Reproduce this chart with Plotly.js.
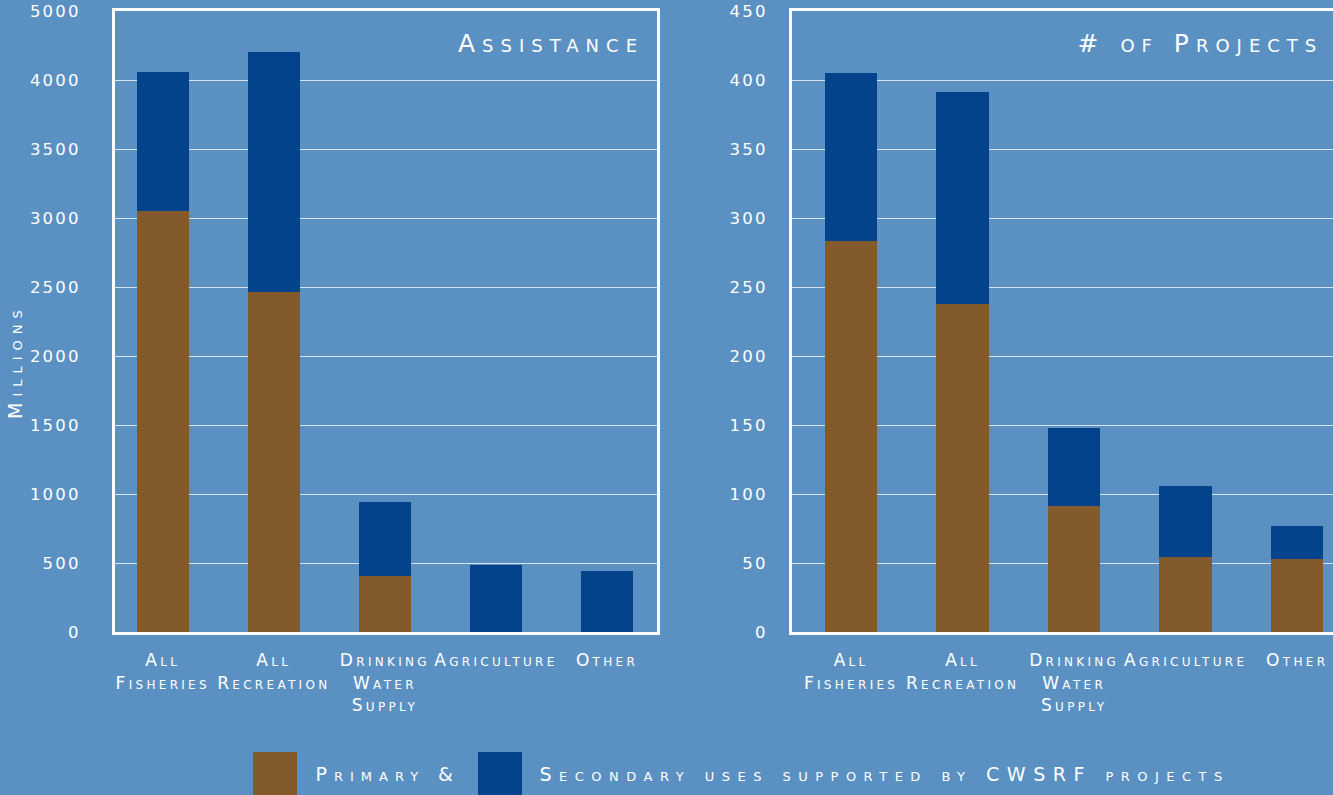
<!DOCTYPE html>
<html>
<head>
<meta charset="utf-8">
<script src="https://cdn.plot.ly/plotly-3.0.1.min.js"></script>
<style>
  html, body { margin: 0; padding: 0; background: #5b91c2; overflow: hidden; }
  #chart { width: 1335px; height: 795px; }
  .ytick text, .y2tick text { letter-spacing: 2.2px; }
  .xtick text, .x2tick text { letter-spacing: 3.3px; }
  g.annotation[data-index="0"] text, g.annotation[data-index="1"] text { letter-spacing: 7px; }
  g.annotation[data-index="2"] text { letter-spacing: 7px; }
  g.annotation[data-index="3"] text { letter-spacing: 7.5px; }
  g.annotation[data-index="4"] text { letter-spacing: 6px; }
</style>
</head>
<body>
<div id="chart"></div>
<script>
// ---- data ----
const categories = ["All<br>Fisheries", "All<br>Recreation", "Drinking<br>Water<br>Supply", "Agriculture", "Other"];
const assistancePrimary   = [3050, 2465, 405, 0, 0];
const assistanceSecondary = [1008, 1738, 537, 486, 442];
const projectsPrimary     = [283, 238, 91, 54, 53];
const projectsSecondary   = [122, 153, 57, 52, 24];
const assistanceTickVals  = [0, 500, 1000, 1500, 2000, 2500, 3000, 3500, 4000, 4500];
const assistanceTickText  = ["0", "500", "1000", "1500", "2000", "2500", "3000", "3500", "4000", "5000"];
const projectsTickVals    = [0, 50, 100, 150, 200, 250, 300, 350, 400, 450];
const seriesNames = ["Primary &", "Secondary uses supported by CWSRF projects"];
const panelTitles = ["Assistance", "# of Projects"];
const yTitle = "Millions";

const BG = "#5b91c2", BROWN = "#825a2c", NAVY = "#02438c";
const FONT = "DejaVu Sans";
const W = 1335, H = 795;
const px = v => v / W;
const py = v => 1 - v / H;

const traces = [
  {type: "bar", x: categories, y: assistancePrimary, name: seriesNames[0], marker: {color: BROWN}, xaxis: "x", yaxis: "y", showlegend: false, hoverinfo: "y"},
  {type: "bar", x: categories, y: assistanceSecondary, name: seriesNames[1], marker: {color: NAVY}, xaxis: "x", yaxis: "y", showlegend: false, hoverinfo: "y"},
  {type: "bar", x: categories, y: projectsPrimary, name: seriesNames[0], marker: {color: BROWN}, xaxis: "x2", yaxis: "y2", showlegend: false, hoverinfo: "y"},
  {type: "bar", x: categories, y: projectsSecondary, name: seriesNames[1], marker: {color: NAVY}, xaxis: "x2", yaxis: "y2", showlegend: false, hoverinfo: "y"}
];

const tickFont = {family: FONT, size: 16.5, color: "#ffffff"};
const catFont = {family: FONT, size: 17, color: "#ffffff", variant: "small-caps"};
const yDom = [py(632), py(11)];

const xCommon = {
  showgrid: false, zeroline: false, showline: true, linecolor: "#ffffff", linewidth: 3, mirror: true,
  tickfont: catFont, ticks: "outside", ticklen: 11, tickcolor: "rgba(0,0,0,0)", fixedrange: true
};
const yCommon = {
  showgrid: true, gridcolor: "rgba(255,255,255,0.75)", gridwidth: 1, zeroline: false,
  showline: true, linecolor: "#ffffff", linewidth: 3, mirror: true,
  tickfont: tickFont, ticks: "outside", tickcolor: "rgba(0,0,0,0)", fixedrange: true
};

const titleFont = {family: FONT, size: 25, color: "#ffffff", variant: "small-caps"};
const legendFont = {family: FONT, size: 19, color: "#ffffff", variant: "small-caps"};

const layout = {
  width: W, height: H,
  paper_bgcolor: BG, plot_bgcolor: BG,
  margin: {l: 0, r: 0, t: 0, b: 0},
  barmode: "stack", bargap: 0.53,
  font: {family: FONT, color: "#ffffff"},
  xaxis: Object.assign({}, xCommon, {domain: [px(115), px(657)], range: [-0.43, 4.45], anchor: "y"}),
  xaxis2: Object.assign({}, xCommon, {domain: [px(792), px(1334)], range: [-0.53, 4.33], anchor: "y2"}),
  yaxis: Object.assign({}, yCommon, {domain: yDom, range: [0, 4500], tickvals: assistanceTickVals, ticktext: assistanceTickText, ticklen: 28, anchor: "x"}),
  yaxis2: Object.assign({}, yCommon, {domain: yDom, range: [0, 450], tickvals: projectsTickVals, ticklen: 18, anchor: "x2"}),
  annotations: [
    {text: panelTitles[0], xref: "paper", yref: "paper", x: px(551), y: py(44), xanchor: "center", yanchor: "middle", showarrow: false, font: titleFont},
    {text: panelTitles[1], xref: "paper", yref: "paper", x: px(1200), y: py(44), xanchor: "center", yanchor: "middle", showarrow: false, font: titleFont},
    {text: seriesNames[0], xref: "paper", yref: "paper", x: px(387.5), y: py(774), xanchor: "center", yanchor: "middle", showarrow: false, font: legendFont},
    {text: seriesNames[1], xref: "paper", yref: "paper", x: px(884), y: py(774), xanchor: "center", yanchor: "middle", showarrow: false, font: legendFont},
    {text: yTitle, xref: "paper", yref: "paper", x: px(15), y: py(362), xanchor: "center", yanchor: "middle", textangle: -90, showarrow: false, font: legendFont}
  ],
  shapes: [
    {type: "rect", xref: "paper", yref: "paper", x0: px(253), x1: px(297), y0: py(795), y1: py(752), fillcolor: BROWN, line: {width: 0}},
    {type: "rect", xref: "paper", yref: "paper", x0: px(478), x1: px(522), y0: py(795), y1: py(752), fillcolor: NAVY, line: {width: 0}}
  ]
};

Plotly.newPlot("chart", traces, layout, {displayModeBar: false, staticPlot: true});
</script>
</body>
</html>
